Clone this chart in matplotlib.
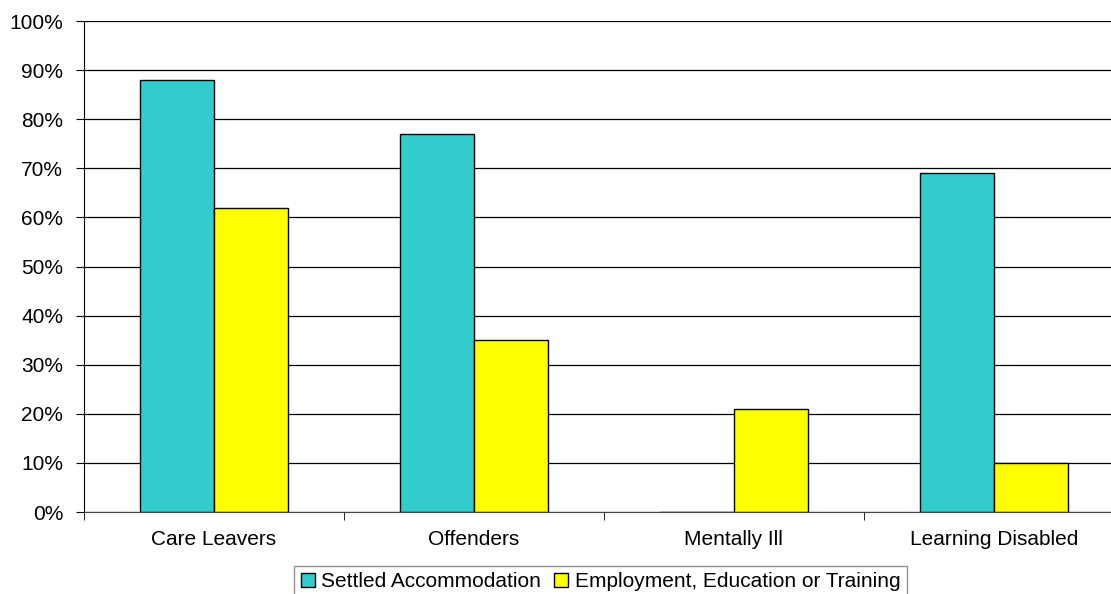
import matplotlib
matplotlib.use('Agg')
import matplotlib.pyplot as plt
import numpy as np

categories = ['Care Leavers', 'Offenders', 'Mentally Ill', 'Learning Disabled']
settled = [88, 77, 0, 69]
employment = [62, 35, 21, 10]
series_names = ['Settled Accommodation', 'Employment, Education or Training']
colors = ['#33CCCC', '#FFFF00']

plt.rcParams['font.family'] = ['Liberation Sans', 'DejaVu Sans']

fig = plt.figure(figsize=(11.11, 5.94), dpi=100)
ax = fig.add_axes([0.0756, 0.138, 0.936, 0.8266])

x = np.arange(len(categories))
w = 0.285
ax.bar(x - w / 2, settled, w, color=colors[0], edgecolor='black', linewidth=1,
       label=series_names[0], zorder=3)
ax.bar(x + w / 2, employment, w, color=colors[1], edgecolor='black', linewidth=1,
       label=series_names[1], zorder=3)

ax.set_xlim(-0.5, len(categories) - 0.5)
ax.set_ylim(0, 100)
ax.set_yticks(range(0, 101, 10))
ax.set_yticklabels([f'{v}%' for v in range(0, 101, 10)], fontsize=15)
ax.yaxis.grid(True, color='black', linewidth=0.9)
ax.set_axisbelow(True)

# category labels between tick marks at the boundaries
ax.set_xticks(x)
ax.set_xticklabels(categories, fontsize=15)
ax.tick_params(axis='x', which='major', length=0, pad=13)
ax.set_xticks(np.arange(-0.5, len(categories)), minor=True)
ax.tick_params(axis='x', which='minor', length=6, direction='out', color='black')
ax.tick_params(axis='y', length=6, direction='out', pad=9)

for s in ['top', 'right']:
    ax.spines[s].set_visible(False)
ax.spines['left'].set_color('black')
ax.spines['bottom'].set_color('#444444')
ax.spines['bottom'].set_zorder(4)

leg = ax.legend(loc='upper center', bbox_to_anchor=(0.5405, 0.047),
                bbox_transform=fig.transFigure, ncol=2, fontsize=15,
                frameon=True, fancybox=False, edgecolor='#777777',
                handlelength=0.7, handleheight=0.7, handletextpad=0.3,
                columnspacing=0.6, borderpad=0.3, borderaxespad=0)
leg.get_frame().set_linewidth(1)

fig.savefig('out.png', dpi=100)
